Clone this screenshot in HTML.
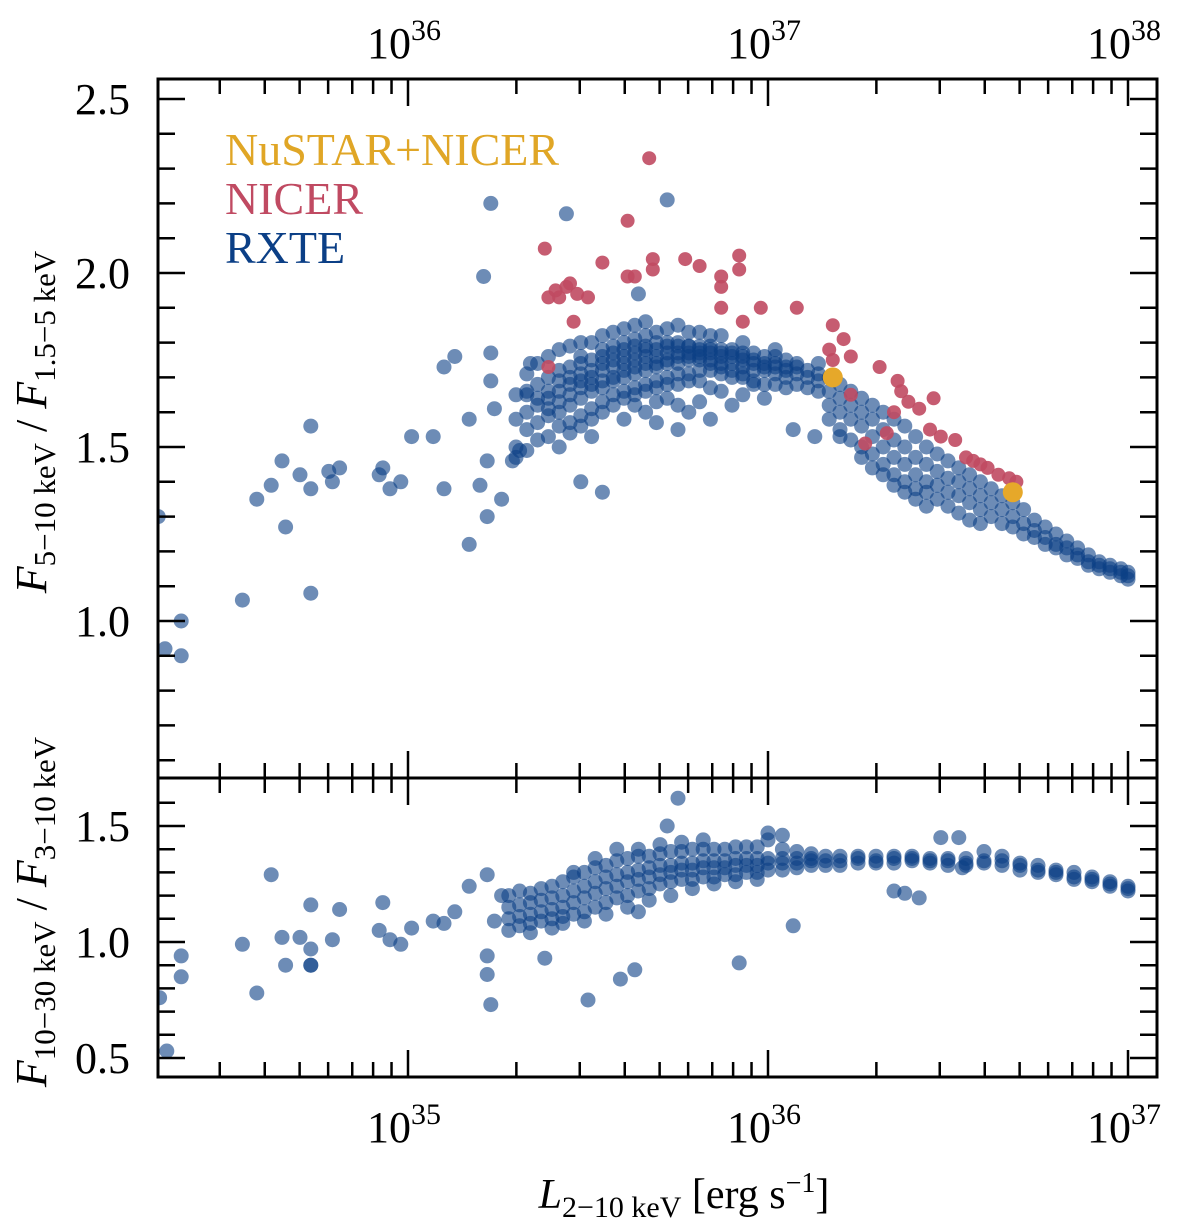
<!DOCTYPE html>
<html><head><meta charset="utf-8"><style>
html,body{margin:0;padding:0;background:#fff;}
svg{display:block;font-family:"Liberation Serif",serif;}
</style></head><body>
<svg id="chart" width="1200" height="1225" viewBox="0 0 1200 1225" xmlns="http://www.w3.org/2000/svg">
<g id="marks"></g>
<g id="axes"></g>
<g font-size="46">
<text x="225" y="165" fill="#e0a626">NuSTAR+NICER</text>
<text x="225" y="214" fill="#c04a62">NICER</text>
<text x="225" y="263" fill="#0b3f86">RXTE</text>
</g>
<text x="684" y="1208" font-size="42" text-anchor="middle"><tspan font-style="italic">L</tspan><tspan font-size="30" dy="9">2−10 keV</tspan><tspan dy="-9"> [erg s</tspan><tspan font-size="28" dy="-16">−1</tspan><tspan dy="16">]</tspan></text>
<text transform="translate(46,422) rotate(-90)" font-size="44" text-anchor="middle"><tspan font-style="italic">F</tspan><tspan font-size="31" dy="9">5−10 keV</tspan><tspan dy="-9"> / </tspan><tspan font-style="italic">F</tspan><tspan font-size="31" dy="9">1.5−5 keV</tspan></text>
<text transform="translate(46,912) rotate(-90)" font-size="44" text-anchor="middle"><tspan font-style="italic">F</tspan><tspan font-size="31" dy="9">10−30 keV</tspan><tspan dy="-9"> / </tspan><tspan font-style="italic">F</tspan><tspan font-size="31" dy="9">3−10 keV</tspan></text>
</svg>
<script>
// ---- data: log10 L (bottom axis units) and ratios ----
const rxteTopScatter = [[34.306,1.30],[34.325,0.92],[34.37,1.00],[34.37,0.90],[34.54,1.06],[34.58,1.35],[34.62,1.39],[34.65,1.46],[34.66,1.27],[34.70,1.42],[34.73,1.38],[34.73,1.08],[34.73,1.56],[34.78,1.43],[34.79,1.40],[34.81,1.44],[34.92,1.42],[34.93,1.44],[34.95,1.38],[34.98,1.40],[35.01,1.53],[35.07,1.53],[35.10,1.38],[35.10,1.73],[35.13,1.76],[35.17,1.22],[35.17,1.58],[35.20,1.39],[35.21,1.99],[35.23,2.20],[35.22,1.30],[35.22,1.46],[35.23,1.77],[35.23,1.69],[35.24,1.61],[35.26,1.35],[35.29,1.46],[35.31,1.49],[35.33,1.65],[35.34,1.74],[35.44,2.17],[35.48,1.40],[35.54,1.37],[35.64,1.94],[35.72,2.21],[36.07,1.55],[36.13,1.53]];
const rxteTopRows = [
[35.30,[1.65,1.58,1.50,1.47]],[35.33,[1.66,1.60,1.55,1.49,1.71]],[35.36,[1.68,1.62,1.57,1.52,1.64,1.74]],
[35.39,[1.70,1.64,1.59,1.53,1.66,1.61,1.76]],[35.42,[1.72,1.66,1.60,1.56,1.69,1.63,1.50,1.78]],
[35.45,[1.73,1.68,1.62,1.57,1.70,1.65,1.54,1.79]],[35.48,[1.74,1.69,1.64,1.59,1.71,1.67,1.56,1.80,1.76]],
[35.51,[1.75,1.70,1.66,1.61,1.72,1.68,1.58,1.80,1.53]],[35.54,[1.76,1.72,1.67,1.63,1.74,1.69,1.60,1.82,1.78]],
[35.57,[1.77,1.73,1.69,1.65,1.75,1.70,1.62,1.83,1.79]],[35.60,[1.78,1.74,1.70,1.66,1.76,1.72,1.64,1.84,1.80,1.58]],
[35.63,[1.79,1.75,1.71,1.67,1.77,1.73,1.65,1.85,1.81,1.62]],[35.66,[1.79,1.76,1.72,1.68,1.78,1.74,1.66,1.86,1.82,1.60]],
[35.69,[1.80,1.76,1.73,1.69,1.78,1.74,1.67,1.83,1.63,1.57]],[35.72,[1.80,1.77,1.74,1.70,1.79,1.75,1.68,1.84,1.64]],
[35.75,[1.80,1.77,1.74,1.71,1.79,1.76,1.68,1.85,1.62,1.55]],[35.78,[1.79,1.77,1.75,1.71,1.79,1.76,1.69,1.83,1.60]],
[35.81,[1.79,1.77,1.75,1.72,1.78,1.76,1.69,1.83,1.63]],[35.84,[1.79,1.77,1.75,1.72,1.78,1.74,1.67,1.82,1.58]],
[35.87,[1.78,1.76,1.74,1.71,1.77,1.73,1.66,1.82]],[35.90,[1.78,1.76,1.74,1.70,1.77,1.72,1.62]],
[35.93,[1.77,1.75,1.73,1.70,1.76,1.71,1.65,1.80]],[35.96,[1.77,1.75,1.72,1.69,1.74,1.68]],
[35.99,[1.76,1.74,1.72,1.68,1.73,1.64]],[36.02,[1.76,1.74,1.71,1.68,1.73,1.78]],[36.05,[1.75,1.73,1.70,1.67,1.72]],
[36.08,[1.73,1.71,1.68,1.74]],[36.11,[1.72,1.70,1.67]],[36.14,[1.71,1.69,1.66,1.74]],
[36.17,[1.70,1.66,1.62,1.58]],[36.20,[1.68,1.64,1.60,1.55,1.53]],[36.23,[1.66,1.62,1.58,1.52]],
[36.26,[1.64,1.60,1.56,1.50,1.47]],[36.29,[1.62,1.58,1.53,1.48,1.44]],[36.32,[1.60,1.55,1.50,1.45,1.42]],
[36.35,[1.58,1.52,1.47,1.42,1.39]],[36.38,[1.56,1.50,1.45,1.40,1.37]],[36.41,[1.53,1.47,1.42,1.38,1.35]],
[36.44,[1.50,1.45,1.40,1.37,1.33]],[36.47,[1.48,1.43,1.39,1.35]],[36.50,[1.46,1.41,1.37,1.33]],
[36.53,[1.44,1.40,1.36,1.31]],[36.56,[1.42,1.38,1.34,1.29]],[36.59,[1.40,1.36,1.32,1.28]],
[36.62,[1.38,1.34,1.30]],[36.65,[1.36,1.32,1.28]],[36.68,[1.34,1.30,1.27]],[36.71,[1.32,1.28,1.25]],
[36.74,[1.29,1.26,1.24]],[36.77,[1.27,1.24,1.22]],[36.80,[1.25,1.22,1.21]],[36.83,[1.23,1.21,1.19]],
[36.86,[1.21,1.19,1.18]],[36.89,[1.19,1.17,1.16]],[36.92,[1.17,1.16,1.15]],[36.95,[1.16,1.15,1.14]],
[36.98,[1.15,1.14,1.13]],[37.00,[1.13,1.12,1.14]]];
const nicerL = [35.38,35.39,35.41,35.42,35.44,35.45,35.46,35.47,35.50,35.39,35.54,35.61,35.61,35.63,35.67,35.68,35.68,35.77,35.81,35.87,35.87,35.92,35.92,35.87,35.93,35.98,36.08,36.18,36.21,36.17,36.18,36.23,36.23,36.27,36.31,36.36,36.37,36.39,36.35,36.42,36.46,36.33,36.45,36.48,36.52,36.55,36.57,36.59,36.61,36.64,36.67,36.69];
const nicerR = [2.07,1.93,1.95,1.93,1.96,1.97,1.86,1.94,1.93,1.73,2.03,2.15,1.99,1.99,2.33,2.04,2.01,2.04,2.02,1.99,1.96,2.05,2.01,1.90,1.86,1.90,1.90,1.85,1.81,1.78,1.75,1.76,1.65,1.51,1.73,1.69,1.66,1.63,1.60,1.61,1.64,1.54,1.55,1.53,1.52,1.47,1.46,1.45,1.44,1.42,1.41,1.40];
const nustarL = [36.18,36.68];
const nustarR = [1.70,1.37];
const rxteBotScatter = [[34.31,0.76],[34.33,0.53],[34.37,0.94],[34.37,0.85],[34.54,0.99],[34.58,0.78],[34.62,1.29],[34.65,1.02],[34.66,0.90],[34.70,1.02],[34.73,0.97],[34.73,0.90],[34.73,0.90],[34.73,1.16],[34.79,1.01],[34.81,1.14],[34.92,1.05],[34.93,1.17],[34.95,1.01],[34.98,0.99],[35.01,1.06],[35.07,1.09],[35.10,1.08],[35.13,1.13],[35.17,1.24],[35.22,1.29],[35.22,0.94],[35.22,0.86],[35.23,0.73],[35.24,1.09],[35.26,1.20],[35.38,0.93],[35.50,0.75],[35.59,0.84],[35.63,0.88],[35.72,1.50],[35.75,1.62],[35.92,0.91],[36.07,1.07],[36.35,1.22],[36.38,1.21],[36.42,1.19],[36.48,1.45],[36.53,1.45],[36.54,1.32]];
const rxteBotRows = [
[35.28,[1.15,1.10,1.05,1.20]],[35.31,[1.16,1.11,1.07,1.22]],[35.34,[1.17,1.12,1.08,1.21,1.04]],[35.37,[1.18,1.13,1.09,1.23]],
[35.40,[1.19,1.14,1.10,1.24,1.06]],[35.43,[1.20,1.15,1.11,1.26,1.08]],[35.46,[1.22,1.17,1.12,1.28,1.30]],
[35.49,[1.24,1.19,1.13,1.30,1.09]],[35.52,[1.26,1.21,1.15,1.32,1.36]],[35.55,[1.28,1.23,1.17,1.33,1.12]],
[35.58,[1.29,1.24,1.19,1.35,1.40]],[35.61,[1.30,1.26,1.20,1.36,1.15]],[35.64,[1.31,1.27,1.22,1.37,1.40,1.13]],
[35.67,[1.32,1.28,1.23,1.37,1.18]],[35.70,[1.33,1.29,1.25,1.38,1.42]],[35.73,[1.33,1.30,1.26,1.39,1.20]],
[35.76,[1.34,1.31,1.27,1.39,1.43]],[35.79,[1.34,1.31,1.27,1.40,1.23]],[35.82,[1.35,1.32,1.28,1.40,1.44]],
[35.85,[1.35,1.32,1.28,1.40,1.25]],[35.88,[1.35,1.32,1.29,1.40]],[35.91,[1.36,1.33,1.29,1.41,1.26]],
[35.94,[1.36,1.33,1.30,1.41]],[35.97,[1.36,1.33,1.30,1.41,1.27]],[36.00,[1.36,1.34,1.31,1.44,1.47]],
[36.04,[1.36,1.34,1.31,1.40,1.46]],[36.08,[1.36,1.34,1.32,1.39]],[36.12,[1.36,1.35,1.33,1.38]],
[36.16,[1.37,1.35,1.33]],[36.20,[1.37,1.35,1.33]],[36.25,[1.37,1.36,1.34]],[36.30,[1.37,1.35,1.34]],
[36.35,[1.37,1.36,1.34]],[36.40,[1.37,1.36,1.35]],[36.45,[1.36,1.35,1.34]],[36.50,[1.36,1.35,1.33]],
[36.55,[1.36,1.34,1.33]],[36.60,[1.35,1.34,1.39]],[36.65,[1.35,1.33,1.37]],[36.70,[1.34,1.33,1.31]],
[36.75,[1.33,1.31,1.30]],[36.80,[1.31,1.30,1.29]],[36.85,[1.30,1.28,1.27]],[36.90,[1.28,1.27,1.26]],
[36.95,[1.26,1.25,1.24]],[37.00,[1.24,1.23,1.22]]];
const xTickExps = [35,36,37];
const xTopTickExps = [36,37,38];
const yTopTicks = [1.0,1.5,2.0,2.5];
const yBotTicks = [0.5,1.0,1.5];

// ---- axes geometry ----
const X0=158, X1=1157, TOP=79, MID=778, BOT=1077;
const LMIN=35-250/360, DEC=360;
function xs(l){return X0+(l-LMIN)*DEC;}
function yTop(v){return 621-(v-1)*348;}
function yBot(v){return 942-(v-1)*232;}
const NS="http://www.w3.org/2000/svg";
const marks=document.getElementById('marks');
const axes=document.getElementById('axes');
function circ(parent,x,y,r,fill,op,name){
  const c=document.createElementNS(NS,'circle');
  c.setAttribute('cx',x.toFixed(1));c.setAttribute('cy',y.toFixed(1));c.setAttribute('r',r);
  c.setAttribute('fill',fill);c.setAttribute('fill-opacity',op);
  
  
  parent.appendChild(c);
}
function ln(x1,y1,x2,y2,w){
  const l=document.createElementNS(NS,'line');
  l.setAttribute('x1',x1);l.setAttribute('y1',y1);l.setAttribute('x2',x2);l.setAttribute('y2',y2);
  l.setAttribute('stroke','#000');l.setAttribute('stroke-width',w||2.5);
  
  
  axes.appendChild(l);
}
function txt(x,y,s,anchor,size,name){
  const t=document.createElementNS(NS,'text');
  t.setAttribute('x',x);t.setAttribute('y',y);t.setAttribute('text-anchor',anchor);t.setAttribute('font-size',size);
  t.textContent=s;
  
  
  axes.appendChild(t);return t;
}
const BLUE='#0b3f86';
const clipDefs=document.createElementNS(NS,'defs');
clipDefs.innerHTML='<clipPath id="cT"><rect x="158" y="79" width="999" height="699"/></clipPath><clipPath id="cB"><rect x="158" y="778" width="999" height="299"/></clipPath>';
document.getElementById('chart').insertBefore(clipDefs,marks);
const gT=document.createElementNS(NS,'g');gT.setAttribute('clip-path','url(#cT)');


const gB=document.createElementNS(NS,'g');gB.setAttribute('clip-path','url(#cB)');


marks.appendChild(gT);marks.appendChild(gB);

rxteTopScatter.forEach(p=>circ(gT,xs(p[0]),yTop(p[1]),7.5,BLUE,0.6,'rxte-point'));
rxteTopRows.forEach(r=>r[1].forEach(v=>circ(gT,xs(r[0]),yTop(v),7.5,BLUE,0.6,'rxte-point')));
nicerL.forEach((l,i)=>circ(gT,xs(l),yTop(nicerR[i]),7,'#c04a62',0.9,'nicer-point'));
nustarL.forEach((l,i)=>circ(gT,xs(l),yTop(nustarR[i]),10,'#e6a82a',1,'nustar-nicer-point'));
rxteBotScatter.forEach(p=>circ(gB,xs(p[0]),yBot(p[1]),7.5,BLUE,0.6,'rxte-point'));
rxteBotRows.forEach(r=>r[1].forEach(v=>circ(gB,xs(r[0]),yBot(v),7.5,BLUE,0.6,'rxte-point')));

const fr=document.createElementNS(NS,'rect');
fr.setAttribute('x',X0);fr.setAttribute('y',TOP);fr.setAttribute('width',X1-X0);fr.setAttribute('height',BOT-TOP);
fr.setAttribute('fill','none');fr.setAttribute('stroke','#000');fr.setAttribute('stroke-width',3);


axes.appendChild(fr);
ln(X0,MID,X1,MID,3);

for(let e=34;e<=37;e++){for(let m=1;m<=9;m++){
  const x=xs(e+Math.log10(m)); if(x<X0+1||x>X1-1) continue;
  const L=m===1?27:15;
  ln(x,BOT,x,BOT-L); ln(x,TOP,x,TOP+L);
  ln(x,MID,x,MID-L); ln(x,MID,x,MID+L);
}}
xTickExps.forEach(e=>{const t=txt(xs(e)-4,1142,'10','middle',44,'x-tick-label');const s=document.createElementNS(NS,'tspan');s.setAttribute('font-size',30);s.setAttribute('dy',-18);s.textContent=String(e);t.appendChild(s);});
xTopTickExps.forEach(e=>{const t=txt(xs(e-1)-4,58,'10','middle',44,'x-top-tick-label');const s=document.createElementNS(NS,'tspan');s.setAttribute('font-size',30);s.setAttribute('dy',-18);s.textContent=String(e);t.appendChild(s);});

for(let i=6;i<=25;i++){const v=i/10;const y=yTop(v);if(y<TOP+2||y>MID-2)continue;const maj=(i%5===0);const L=maj?27:17;ln(X0,y,X0+L,y);ln(X1,y,X1-L,y);}
yTopTicks.forEach(v=>txt(130,yTop(v)+15,v.toFixed(1),'end',44,'y-top-tick-label'));
for(let i=5;i<=17;i++){const v=i/10;const y=yBot(v);if(y<MID+2||y>BOT-2)continue;const maj=(i%5===0);const L=maj?27:17;ln(X0,y,X0+L,y);ln(X1,y,X1-L,y);}
yBotTicks.forEach(v=>txt(130,yBot(v)+15,v.toFixed(1),'end',44,'y-bottom-tick-label'));
</script>
</body></html>
